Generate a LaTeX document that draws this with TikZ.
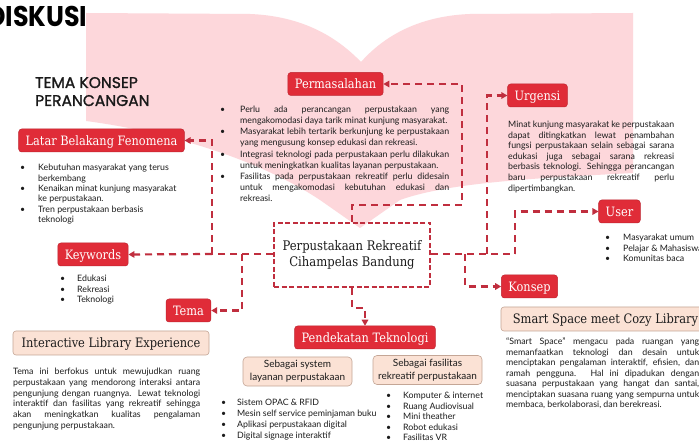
\documentclass[tikz,border=0pt]{standalone}
\usepackage{fontspec}
\setmainfont{Lato}
\newfontfamily\hfont[FakeStretch=0.88]{DejaVu Serif}
\newfontfamily\pfont[FakeBold=1.3]{Poppins}
\newfontfamily\dfont[FakeStretch=0.89]{Poppins}
\usetikzlibrary{arrows.meta}
\definecolor{pinkbg}{RGB}{253,215,219}
\definecolor{redbox}{RGB}{224,44,56}
\definecolor{conn}{RGB}{192,46,62}
\definecolor{peach}{RGB}{251,226,213}
\definecolor{peachline}{RGB}{196,166,150}
\definecolor{txt}{RGB}{28,28,28}
\newcommand{\bu}[1]{\makebox[#1pt][l]{\textbullet}}
\newcommand{\ind}[1]{\hspace*{#1pt}}
\newcommand{\jl}[2]{\makebox[#1pt][s]{#2}}
\begin{document}
\begin{tikzpicture}[x=1pt,y=-1pt,
  redlab/.style={fill=redbox, draw=redbox!85!black, line width=0.5pt, rounded corners=3pt,
    text=white, font=\hfont\fontsize{12.9}{14}\selectfont, minimum height=23pt,
    inner xsep=7pt, inner ysep=0pt, text height=11.4pt, text depth=2pt},
  peachbox/.style={fill=peach, draw=peachline, line width=0.6pt, rounded corners=3pt,
    text=txt, font=\hfont\fontsize{13}{14}\selectfont, minimum height=24pt,
    inner sep=0pt, text height=11.4pt, text depth=2pt},
  peachsub/.style={fill=peach, draw=peachline, line width=0.6pt, rounded corners=4pt,
    text=txt, font=\fontsize{10}{12.8}\selectfont, minimum width=109pt, minimum height=29pt,
    inner sep=0pt, align=center},
  mainbox/.style={draw=conn, line width=2pt, dash pattern=on 5pt off 2.5pt,
    minimum width=156pt, minimum height=64pt, align=center, text=txt,
    font=\hfont\fontsize{13.2}{16.5}\selectfont},
  body/.style={anchor=north west, align=left, inner sep=0pt, text=txt},
  link/.style={draw=conn, line width=2.2pt, dash pattern=on 7pt off 5pt},
  conn/.style={link, -{Triangle[length=6pt,width=6.5pt]}}
]
\useasboundingbox (0,0) rectangle (699,446);
\fill[white] (0,0) rectangle (699,446);
% open book background
\fill[pinkbg] (86,13) -- (250,14) .. controls (300,16) and (335,35) .. (361,62)
  .. controls (385,35) and (420,16) .. (470,14) -- (633,13) -- (633,173)
  .. controls (540,178) and (450,182) .. (400,200) -- (360,228) -- (320,200)
  .. controls (260,160) and (170,132) .. (86,121) -- cycle;

% titles
\node[anchor=base west, font=\dfont\bfseries\fontsize{28.5}{30}\selectfont, inner sep=0pt] (disk) at (-13,27) {DISKUSI};
\node[anchor=base west, font=\pfont\fontsize{15.5}{17}\selectfont, inner sep=0pt, text=black!90] (tema1) at (35,88) {TEMA KONSEP};
\node[anchor=base west, font=\pfont\fontsize{15.5}{17}\selectfont, inner sep=0pt, text=black!90] (tema2) at (35,106) {PERANCANGAN};

% red labels
\node[redlab] (latar) at (101.5,140.5) {Latar Belakang Fenomena};
\node[redlab] (perm) at (335.5,84) {Permasalahan};
\node[redlab] (urg) at (537.5,95.5) {Urgensi};
\node[redlab] (kw) at (93,254.5) {Keywords};
\node[redlab] (tema) at (188.5,310.5) {Tema};
\node[redlab] (pend) at (365,337.5) {Pendekatan Teknologi};
\node[redlab] (kon) at (529.5,286.5) {Konsep};
\node[redlab] (user) at (619.5,211.5) {User};

% main box
\node[mainbox] (main) at (352,255) {Perpustakaan Rekreatif\\Cihampelas Bandung};

% peach boxes
\node[peachbox, minimum width=196pt] (ile) at (111,343) {Interactive Library Experience};
\node[peachbox, minimum width=209pt] (ssc) at (605.5,319) {Smart Space meet Cozy Library};
\node[peachsub] (sys) at (297.5,371.5) {Sebagai system\\layanan perpustakaan};
\node[peachsub] (fas) at (427.5,370) {Sebagai fasilitas\\rekreatif perpustakaan};

% text blocks
\node[body, font=\fontsize{8.8}{11.1}\selectfont] (permtext) at (220,106) {%
\bu{20}\jl{209}{Perlu ada perancangan perpustakaan yang}\\
\ind{20}mengakomodasi daya tarik minat kunjung masyarakat.\\
\bu{20}\jl{209}{Masyarakat lebih tertarik berkunjung ke perpustakaan}\\
\ind{20}yang mengusung konsep edukasi dan rekreasi.\\
\bu{20}\jl{209}{Integrasi teknologi pada perpustakaan perlu dilakukan}\\
\ind{20}untuk meningkatkan kualitas layanan perpustakaan.\\
\bu{20}\jl{209}{Fasilitas pada perpustakaan rekreatif perlu didesain}\\
\ind{20}\jl{209}{untuk mengakomodasi kebutuhan edukasi dan}\\
\ind{20}rekreasi.};

\node[body, font=\fontsize{8.8}{10.4}\selectfont] (latartext) at (20,164) {%
\bu{18}Kebutuhan masyarakat yang terus\\
\ind{18}berkembang\\
\bu{18}Kenaikan minat kunjung masyarakat\\
\ind{18}ke perpustakaan.\\
\bu{18}Tren perpustakaan berbasis\\
\ind{18}teknologi};

\node[body, font=\fontsize{8.8}{10.56}\selectfont] (urgtext) at (508,121) {%
\jl{166}{Minat kunjung masyarakat ke perpustakaan}\\
\jl{166}{dapat ditingkatkan lewat penambahan}\\
\jl{166}{fungsi perpustakaan selain sebagai sarana}\\
\jl{166}{edukasi juga sebagai sarana rekreasi}\\
\jl{166}{berbasis teknologi. Sehingga perancangan}\\
\jl{166}{baru perpustakaan rekreatif perlu}\\
dipertimbangkan.};

\node[body, font=\fontsize{8.8}{10.5}\selectfont] (kwtext) at (60,275) {%
\bu{17}Edukasi\\
\bu{17}Rekreasi\\
\bu{17}Teknologi};

\node[body, font=\fontsize{8.8}{10.5}\selectfont] (usertext) at (605,234) {%
\bu{18}Masyarakat umum\\
\bu{18}Pelajar \& Mahasiswa\\
\bu{18}Komunitas baca};

\node[body, font=\fontsize{8.8}{11}\selectfont] (systext) at (221,399) {%
\bu{16}Sistem OPAC \& RFID\\
\bu{16}Mesin self service peminjaman buku\\
\bu{16}Aplikasi perpustakaan digital\\
\bu{16}Digital signage interaktif};

\node[body, font=\fontsize{8.8}{10.5}\selectfont] (fastext) at (386,392) {%
\bu{17}Komputer \& internet\\
\bu{17}Ruang Audiovisual\\
\bu{17}Mini theather\\
\bu{17}Robot edukasi\\
\bu{17}Fasilitas VR};

\node[body, font=\fontsize{8.8}{10.7}\selectfont] (iletext) at (13,368) {%
\jl{187}{Tema ini berfokus untuk mewujudkan ruang}\\
\jl{187}{perpustakaan yang mendorong interaksi antara}\\
\jl{187}{pengunjung dengan ruangnya. Lewat teknologi}\\
\jl{187}{interaktif dan fasilitas yang rekreatif sehingga}\\
\jl{187}{akan meningkatkan kualitas pengalaman}\\
pengunjung perpustakaan.};

\node[body, font=\fontsize{8.8}{10.5}\selectfont] (ssctext) at (506,338) {%
\jl{193}{“Smart Space” mengacu pada ruangan yang}\\
\jl{193}{memanfaatkan teknologi dan desain untuk}\\
\jl{193}{menciptakan pengalaman interaktif, efisien, dan}\\
\jl{193}{ramah pengguna. Hal ini dipadukan dengan}\\
\jl{193}{suasana perpustakaan yang hangat dan santai,}\\
\jl{193}{menciptakan suasana ruang yang sempurna untuk}\\
membaca, berkolaborasi, dan berekreasi.};

% connectors
\coordinate (yline) at (0,254);
\coordinate (jl) at (212,254);
\coordinate (jt) at (242,254);
\coordinate (jk) at (465,254);
\coordinate (ju) at (487,254);
\coordinate (jr) at (515,254);
\draw[conn] (main.north) -- ++(0,-17) -| (462,84) -- (perm.east);
\draw[link] (main.west |- yline) -- (jl);
\draw[conn] (jl) |- (latar.east);
\draw[conn] (jl) -- (kw.east);
\draw[conn] (jt) |- (tema.east);
\draw[link] (main.east |- yline) -- (jr);
\draw[conn] (jr) |- (user.west);
\draw[conn] (ju) |- (urg.west);
\draw[conn] (jk) |- (kon.west);
\draw[conn] (main.south) -- ++(0,20) -| (pend.north);
\end{tikzpicture}
\end{document}
